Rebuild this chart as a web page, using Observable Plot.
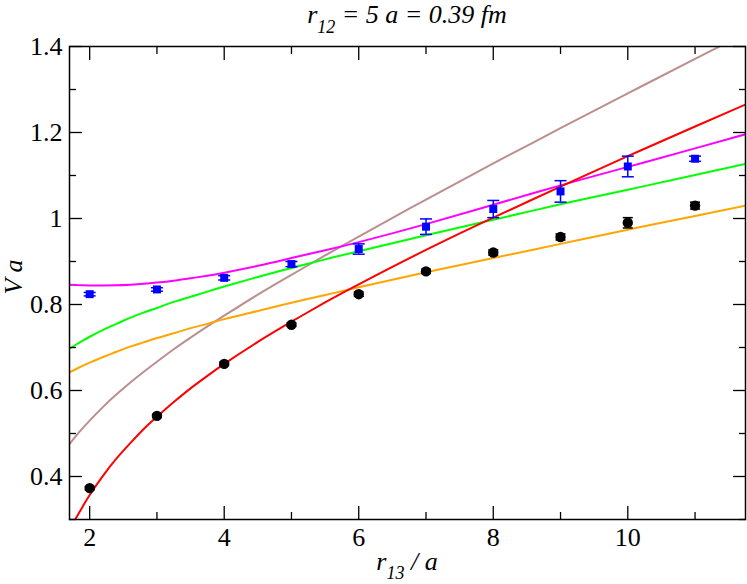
<!DOCTYPE html>
<html><head><meta charset="utf-8">
<script src="https://cdn.jsdelivr.net/npm/d3@7"></script>
<script src="https://cdn.jsdelivr.net/npm/@observablehq/plot@0.6"></script>
<style>
body{margin:0;background:#fff}
svg text, svg tspan { font-family: "Liberation Serif", "Times New Roman", Times, "Noto Serif", "DejaVu Serif", FreeSerif, serif !important; }
</style>
</head><body><div id="chart"></div>
<script>
// Lattice data points
const r13 = [2, 3, 4, 5, 6, 7, 8, 9, 10, 11];
const vBlack = [0.373, 0.541, 0.662, 0.753, 0.824, 0.877, 0.921, 0.957, 0.990, 1.030];
const eBlack = [0.004, 0.004, 0.004, 0.004, 0.005, 0.005, 0.006, 0.007, 0.012, 0.008];
const vBlue = [0.824, 0.835, 0.862, 0.894, 0.929, 0.981, 1.022, 1.063, 1.121, 1.139];
const eBlue = [0.004, 0.004, 0.005, 0.006, 0.012, 0.018, 0.020, 0.025, 0.024, 0.006];

// Fit curves
const curveR = [1.7, 1.8, 1.9, 2, 2.2, 2.4, 2.6, 2.8, 3, 3.25, 3.5, 3.75, 4, 4.5, 5, 5.5, 6, 7, 8, 9, 10, 11, 11.75];
const fitRed = [0.274, 0.304, 0.331, 0.357, 0.402, 0.442, 0.477, 0.510, 0.539, 0.573, 0.605, 0.634, 0.662, 0.713, 0.760, 0.805, 0.847, 0.927, 1.002, 1.074, 1.145, 1.214, 1.265];
const fitBrown = [0.475, 0.495, 0.513, 0.530, 0.562, 0.591, 0.618, 0.643, 0.667, 0.696, 0.723, 0.749, 0.774, 0.823, 0.869, 0.914, 0.958, 1.044, 1.128, 1.210, 1.291, 1.371, 1.431];
const fitGreen = [0.697, 0.707, 0.716, 0.725, 0.741, 0.755, 0.769, 0.781, 0.792, 0.806, 0.818, 0.830, 0.842, 0.864, 0.885, 0.905, 0.924, 0.961, 0.997, 1.033, 1.067, 1.101, 1.127];
const fitOrange = [0.642, 0.650, 0.658, 0.665, 0.678, 0.690, 0.702, 0.712, 0.722, 0.733, 0.745, 0.755, 0.766, 0.785, 0.804, 0.822, 0.840, 0.875, 0.908, 0.941, 0.974, 1.006, 1.030];
const fitMagenta = [0.846, 0.8452, 0.8446, 0.8443, 0.8442, 0.8446, 0.846, 0.848, 0.851, 0.8555, 0.861, 0.867, 0.874, 0.890, 0.908, 0.926, 0.945, 0.987, 1.032, 1.077, 1.120, 1.163, 1.196];

const xMajor = [2, 4, 6, 8, 10];
const xMinor = [3, 5, 7, 9, 11];
const yMajor = [0.4, 0.6, 0.8, 1.0, 1.2, 1.4];
const yMinor = [0.3, 0.5, 0.7, 0.9, 1.1, 1.3];

const fits = [
  {values: fitBrown, color: "#bc8f8f"},
  {values: fitOrange, color: "#ffa500"},
  {values: fitGreen, color: "#00ff00"},
  {values: fitMagenta, color: "#ff00ff"},
  {values: fitRed, color: "#ff0000"}
];

const black = r13.map((r, i) => ({r, v: vBlack[i], e: eBlack[i]}));
const blue = r13.map((r, i) => ({r, v: vBlue[i], e: eBlue[i]}));

const capSymbol = {draw(ctx, size) { const w = Math.sqrt(size / Math.PI); ctx.moveTo(-w, 0); ctx.lineTo(w, 0); }};
const fmt = d3.format("~g");
const serif = "Liberation Serif, Times New Roman, Times, Noto Serif, DejaVu Serif, serif";

function errorMarks(data, color, capR) {
  return [
    Plot.ruleX(data, {x: "r", y1: d => d.v - d.e, y2: d => d.v + d.e, stroke: color, strokeWidth: 1.5}),
    Plot.dot(data, {x: "r", y: d => d.v - d.e, symbol: capSymbol, r: capR, stroke: color, strokeWidth: 1.5}),
    Plot.dot(data, {x: "r", y: d => d.v + d.e, symbol: capSymbol, r: capR, stroke: color, strokeWidth: 1.5})
  ];
}

const tickAx = (anchor, ticks, size) => (anchor === "bottom" || anchor === "top")
  ? Plot.axisX({anchor, ticks, tickSize: -size, tickFormat: () => "", label: null, stroke: "#000", strokeWidth: 1.3})
  : Plot.axisY({anchor, ticks, tickSize: -size, tickFormat: () => "", label: null, stroke: "#000", strokeWidth: 1.3});

const svg = Plot.plot({
  width: 747, height: 584,
  marginTop: 46, marginLeft: 69, marginRight: 2, marginBottom: 65,
  style: {fontFamily: serif, fontSize: "26px", background: "#fff", color: "#000"},
  x: {domain: [1.7, 11.75]},
  y: {domain: [0.3, 1.4]},
  marks: [
    ...fits.map(f => Plot.line(curveR.map((r, i) => ({r, v: f.values[i]})), {x: "r", y: "v", stroke: f.color, strokeWidth: 2, curve: "natural", clip: true})),
    ...errorMarks(blue, "#0000ff", 6),
    Plot.dot(blue, {x: "r", y: "v", symbol: "square", r: 4.5, fill: "#0000ff"}),
    ...errorMarks(black, "#000", 5),
    Plot.dot(black, {x: "r", y: "v", r: 5.2, fill: "#000"}),
    Plot.frame({stroke: "#000", strokeWidth: 1.5}),
    tickAx("bottom", xMajor, 13), tickAx("bottom", xMinor, 7),
    tickAx("top", xMajor, 13), tickAx("top", xMinor, 7),
    tickAx("left", yMajor, 13), tickAx("left", yMinor, 7),
    tickAx("right", yMajor, 13), tickAx("right", yMinor, 7),
    Plot.axisX({anchor: "bottom", ticks: xMajor, tickSize: 0, tickPadding: 8, tickFormat: fmt, label: null, fontSize: 26, fill: "#000"}),
    Plot.axisY({anchor: "left", ticks: yMajor, tickSize: 0, tickPadding: 7, tickFormat: fmt, label: null, fontSize: 26, fill: "#000"})
  ]
});

const s = d3.select(svg);
// Title
const t = s.append("text").attr("x", 407).attr("y", 23).attr("text-anchor", "middle")
  .attr("font-style", "italic").attr("font-size", 26).attr("fill", "#000");
t.append("tspan").text("r");
t.append("tspan").attr("font-size", 18).attr("dy", 10).text("12");
t.append("tspan").attr("dy", -10).text(" = 5 a = 0.39 fm");
// X label
const xl = s.append("text").attr("x", 407).attr("y", 570).attr("text-anchor", "middle")
  .attr("font-style", "italic").attr("font-size", 26).attr("fill", "#000");
xl.append("tspan").text("r");
xl.append("tspan").attr("font-size", 18).attr("dy", 9).text("13");
xl.append("tspan").attr("dy", -9).text(" / a");
// Y label
s.append("text").attr("transform", "translate(22,277) rotate(-90)").attr("text-anchor", "middle")
  .attr("font-style", "italic").attr("font-size", 26).attr("fill", "#000")
  .text("V a");

document.getElementById("chart").appendChild(svg);
</script>
</body></html>
